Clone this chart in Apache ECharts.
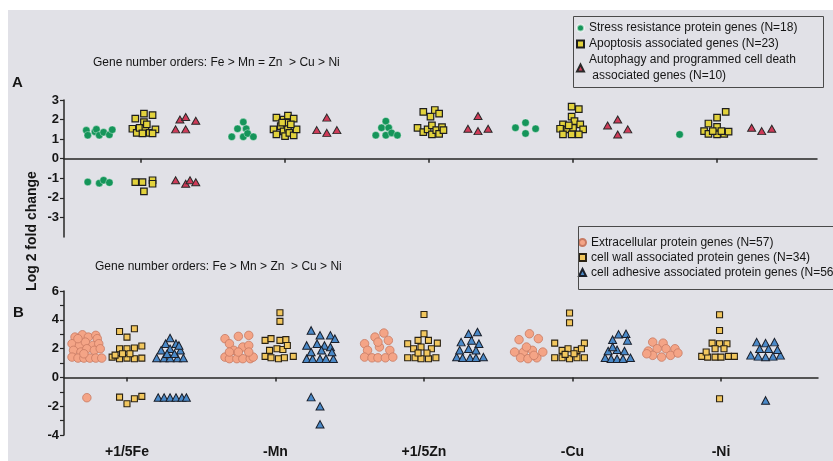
<!DOCTYPE html>
<html>
<head>
<meta charset="utf-8">
<script src="https://cdn.jsdelivr.net/npm/echarts@6/dist/echarts.min.js"></script>
<style>
html,body{margin:0;padding:0;background:#fff;}
#chart{width:833px;height:461px;}
</style>
</head>
<body>
<div id="chart"></div>
<script>
// Category (treatment) labels; x values below = category index + horizontal jitter
const groups = ['+1/5Fe', '-Mn', '+1/5Zn', '-Cu', '-Ni'];

const namesA = ['Stress resistance protein genes (N=18)', 'Apoptosis associated genes (N=23)', 'Autophagy and programmed cell death\n associated genes (N=10)'];
const namesB = ['Extracellular protein genes (N=57)', 'cell wall associated protein genes (N=34)', 'cell adhesive associated protein genes (N=56)'];

const yTicksA = [-3, -2, -1, 0, 1, 2, 3];
const xTicks = [0, 1, 2, 3, 4];

// Panel A: [x, log2 fold change]
const stressA = [
  [-0.38,1.45],[-0.37,1.2],[-0.32,1.38],[-0.31,1.5],[-0.29,1.2],[-0.26,1.35],[-0.22,1.22],[-0.2,1.48],
  [-0.37,-1.19],[-0.29,-1.25],[-0.26,-1.1],[-0.22,-1.22],
  [0.63,1.12],[0.67,1.53],[0.71,1.87],[0.71,1.12],[0.73,1.53],[0.74,1.29],[0.78,1.12],
  [1.63,1.2],[1.67,1.58],[1.7,1.92],[1.7,1.2],[1.72,1.58],[1.74,1.32],[1.78,1.2],
  [2.6,1.58],[2.67,1.84],[2.67,1.29],[2.74,1.53],
  [3.74,1.24]
];
const apoptosisA = [
  [-0.04,2.05],[0.02,2.3],[0.08,2.23],[0.02,1.87],[-0.06,1.53],[-0.03,1.32],[-0.01,1.58],[0.03,1.55],[0.06,1.32],[0.1,1.5],[0.01,1.29],[0.08,1.29],[0.04,1.75],
  [-0.04,-1.2],[0.01,-1.2],[0.08,-1.1],[0.08,-1.28],[0.02,-1.67],
  [0.94,2.1],[0.99,2.0],[1.02,2.2],[1.06,2.05],[0.92,1.5],[0.94,1.24],[0.97,1.67],[0.99,1.4],[1.0,1.15],[1.02,1.58],[1.03,1.32],[1.06,1.19],[1.08,1.5],[1.01,1.84],[0.98,1.84],[1.04,1.75],
  [1.96,2.39],[2.01,2.15],[2.04,2.49],[2.07,2.3],[1.92,1.58],[1.96,1.36],[1.99,1.5],[2.02,1.7],[2.02,1.24],[2.05,1.46],[2.07,1.27],[2.09,1.61],[2.1,1.46],
  [2.99,2.66],[3.04,2.53],[2.99,2.15],[3.01,1.92],[2.93,1.75],[3.05,1.75],[2.91,1.53],[2.96,1.5],[3.0,1.58],[3.07,1.5],[2.93,1.24],[2.99,1.24],[3.04,1.24],[2.97,1.7],
  [4.06,2.39],[4.0,2.1],[3.94,1.8],[4.0,1.63],[3.91,1.41],[3.94,1.27],[4.0,1.24],[4.05,1.27],[4.08,1.38],[3.97,1.41],[4.03,1.41]
];
const autophagyA = [
  [0.24,1.5],[0.27,2.0],[0.31,2.13],[0.31,1.5],[0.38,1.94],
  [0.24,-1.1],[0.31,-1.28],[0.34,-1.1],[0.38,-1.2],
  [1.22,1.46],[1.29,2.1],[1.29,1.32],[1.36,1.46],
  [2.27,1.53],[2.34,2.18],[2.34,1.41],[2.41,1.53],
  [3.24,1.7],[3.31,2.0],[3.31,1.24],[3.38,1.5],
  [4.24,1.58],[4.31,1.41],[4.38,1.53]
];

// Panel B: [x, log2 fold change]
const extracellularB = [
  [-0.35,2.8],[-0.3,2.96],[-0.26,2.8],[-0.21,2.92],[-0.2,2.69],[-0.37,2.34],[-0.32,2.22],[-0.28,2.45],[-0.23,2.22],[-0.19,2.34],[-0.36,1.88],[-0.31,1.76],[-0.27,1.99],[-0.22,1.88],[-0.18,1.99],[-0.37,1.41],[-0.33,1.34],[-0.29,1.34],[-0.25,1.34],[-0.21,1.34],[-0.17,1.34],[-0.29,1.64],[-0.33,2.69],
  [-0.27,-1.41],
  [0.66,2.69],[0.69,2.34],[0.75,2.85],[0.82,2.92],[0.72,1.88],[0.78,2.11],[0.82,2.22],[0.66,1.41],[0.69,1.3],[0.74,1.3],[0.78,1.3],[0.83,1.3],[0.85,1.41],[0.75,1.76],[0.82,1.76],[0.69,1.76],
  [1.6,2.34],[1.67,2.8],[1.73,3.08],[1.76,2.57],[1.62,1.88],[1.7,2.11],[1.77,1.88],[1.6,1.41],[1.65,1.36],[1.69,1.36],[1.74,1.36],[1.79,1.41],[1.69,2.45],
  [2.71,3.03],[2.64,2.62],[2.77,2.69],[2.61,1.76],[2.67,1.76],[2.73,1.88],[2.8,1.76],[2.65,1.36],[2.7,1.3],[2.76,1.36],[2.69,2.11],[2.74,1.53],
  [3.54,2.45],[3.61,2.38],[3.51,1.83],[3.57,1.99],[3.63,1.99],[3.69,1.99],[3.54,1.53],[3.6,1.41],[3.66,1.53],[3.71,1.69],[3.5,1.64]
];
const cellWallB = [
  [-0.05,3.19],[0.05,3.38],[0.0,2.8],[-0.05,1.99],[0.0,1.99],[0.05,2.04],[0.1,2.18],[-0.1,1.41],[-0.05,1.3],[0.0,1.34],[0.05,1.3],[0.1,1.34],[-0.03,1.64],[0.02,1.64],[-0.08,1.55],
  [-0.05,-1.37],[0.0,-1.83],[0.05,-1.48],[0.1,-1.32],
  [1.03,4.49],[1.03,3.89],[0.93,2.57],[0.97,2.69],[1.03,2.57],[1.07,2.62],[0.93,1.46],[0.97,1.36],[1.02,1.3],[1.06,1.36],[1.12,1.46],[0.96,1.88],[1.01,1.99],[1.05,1.94],[1.08,2.22],
  [2.0,4.37],[2.0,3.03],[1.89,2.34],[1.96,2.57],[2.03,2.57],[2.09,2.38],[1.93,1.99],[1.98,2.11],[2.05,1.99],[1.89,1.36],[1.94,1.36],[1.98,1.3],[2.03,1.3],[2.08,1.36],[1.96,1.69],[2.02,1.69],
  [2.98,4.47],[2.98,3.8],[2.88,2.38],[3.08,2.38],[2.93,1.88],[2.97,1.99],[3.03,1.88],[3.06,1.99],[2.88,1.36],[2.93,1.36],[2.98,1.3],[3.03,1.36],[3.08,1.36],[2.95,1.6],[3.01,1.64],
  [3.99,4.35],[3.99,3.26],[3.94,2.38],[3.99,2.34],[4.04,2.34],[3.96,1.99],[4.02,1.99],[3.87,1.46],[3.91,1.41],[3.96,1.41],[4.0,1.41],[4.05,1.46],[4.09,1.46],[3.9,1.76],
  [3.99,-1.48]
];
const adhesiveB = [
  [0.29,2.73],[0.26,2.34],[0.33,2.34],[0.23,1.88],[0.29,1.99],[0.36,1.88],[0.2,1.34],[0.25,1.34],[0.29,1.34],[0.34,1.34],[0.38,1.34],[0.27,1.64],[0.32,1.64],[0.35,2.22],
  [0.21,-1.4],[0.25,-1.4],[0.29,-1.4],[0.33,-1.4],[0.37,-1.4],[0.4,-1.4],
  [1.24,3.26],[1.3,2.92],[1.37,2.92],[1.4,2.69],[1.21,2.22],[1.28,2.34],[1.33,2.22],[1.37,2.11],[1.21,1.3],[1.25,1.3],[1.3,1.3],[1.34,1.3],[1.39,1.3],[1.24,1.76],[1.31,1.88],[1.38,1.76],
  [1.24,-1.37],[1.3,-2.01],[1.3,-3.26],
  [2.3,3.03],[2.36,3.15],[2.25,2.45],[2.32,2.57],[2.37,2.34],[2.22,1.41],[2.26,1.36],[2.31,1.36],[2.35,1.36],[2.4,1.41],[2.24,1.88],[2.3,1.99],[2.35,1.88],
  [3.27,2.62],[3.31,2.99],[3.36,3.03],[3.37,2.57],[3.22,1.36],[3.26,1.3],[3.3,1.3],[3.34,1.3],[3.39,1.36],[3.24,1.83],[3.3,1.92],[3.35,1.83],[3.27,2.11],
  [4.24,2.45],[4.3,2.38],[4.36,2.45],[4.2,1.53],[4.25,1.46],[4.3,1.41],[4.35,1.46],[4.4,1.53],[4.26,1.99],[4.32,1.99],[4.38,1.92],
  [4.3,-1.6]
];

const FONT = 'Liberation Sans, Arial, Helvetica, sans-serif';
const AXC = '#262626';
const TXT = '#151515';

const chart = echarts.init(document.getElementById('chart'), null, {renderer: 'canvas'});

function xAxisCfg(grid, min, max, showLabels) {
  return {
    gridIndex: grid, type: 'value', min: min, max: max,
    splitLine: {show: false},
    axisLine: {show: true, onZero: true, lineStyle: {color: AXC, width: 1.5}},
    axisTick: {show: true, customValues: xTicks, length: 4, lineStyle: {color: AXC, width: 1.5}},
    axisLabel: {
      show: showLabels, customValues: xTicks, margin: 10,
      formatter: function (v) { return groups[Math.round(v)] || ''; },
      fontFamily: FONT, fontSize: 14, fontWeight: 'bold', color: TXT
    }
  };
}

const option = {
  animation: false,
  backgroundColor: '#ffffff',
  textStyle: {fontFamily: FONT},
  graphic: [
    {type: 'rect', z: -10, silent: true, shape: {x: 8, y: 10, width: 830, height: 460}, style: {fill: '#e1e1e7'}},
    {type: 'rect', z: 5, silent: true, shape: {x: 573.5, y: 16.5, width: 250, height: 71}, style: {fill: 'none', stroke: '#4a4a4a', lineWidth: 1}},
    {type: 'rect', z: 5, silent: true, shape: {x: 578.5, y: 226.5, width: 270, height: 63}, style: {fill: 'none', stroke: '#4a4a4a', lineWidth: 1}},
    {type: 'text', x: 93, y: 63, style: {text: 'Gene number orders: Fe > Mn = Zn  > Cu > Ni', font: '12px ' + FONT, fill: TXT, verticalAlign: 'middle'}},
    {type: 'text', x: 95, y: 267, style: {text: 'Gene number orders: Fe > Mn > Zn  > Cu > Ni', font: '12px ' + FONT, fill: TXT, verticalAlign: 'middle'}},
    {type: 'text', x: 12, y: 83, style: {text: 'A', font: 'bold 15px ' + FONT, fill: TXT, verticalAlign: 'middle'}},
    {type: 'text', x: 13, y: 313, style: {text: 'B', font: 'bold 15px ' + FONT, fill: TXT, verticalAlign: 'middle'}},
    {type: 'text', x: 32, y: 231, rotation: Math.PI / 2, style: {text: 'Log 2 fold change', font: 'bold 14px ' + FONT, fill: TXT, align: 'center', verticalAlign: 'middle'}}
  ],
  grid: [
    {left: 64, right: 16, top: 100, bottom: 224, containLabel: false, outerBoundsMode: 'none'},
    {left: 64, right: 15, top: 291, bottom: 26, containLabel: false, outerBoundsMode: 'none'}
  ],
  xAxis: [
    xAxisCfg(0, -0.535, 4.694, false),
    xAxisCfg(1, -0.424, 4.653, true)
  ],
  yAxis: [
    {
      gridIndex: 0, type: 'value', min: -4, max: 3, interval: 1,
      splitLine: {show: false},
      axisLine: {show: true, onZero: false, lineStyle: {color: AXC, width: 1.5}},
      axisTick: {show: true, customValues: yTicksA, length: 4, lineStyle: {color: AXC, width: 1.2}},
      axisLabel: {
        customValues: yTicksA, margin: 5,
        fontFamily: FONT, fontSize: 13, fontWeight: 'bold', color: TXT
      }
    },
    {
      gridIndex: 1, type: 'value', min: -4, max: 6, interval: 1,
      splitLine: {show: false},
      axisLine: {show: true, onZero: false, lineStyle: {color: AXC, width: 1.5}},
      axisTick: {show: true, length: 4, lineStyle: {color: AXC, width: 1.2}},
      axisLabel: {
        margin: 5,
        formatter: function (v) { return (v % 2 === 0) ? String(v) : ''; },
        fontFamily: FONT, fontSize: 13, fontWeight: 'bold', color: TXT
      }
    }
  ],
  legend: [
    {
      data: namesA, orient: 'vertical', left: 576, top: 20, padding: 0,
      itemWidth: 7, itemHeight: 7, itemGap: 0, selectedMode: false,
      textStyle: {fontFamily: FONT, fontSize: 12, lineHeight: 16, color: TXT}
    },
    {
      data: namesB, orient: 'vertical', left: 578, top: 235, padding: 0,
      itemWidth: 7, itemHeight: 7, itemGap: 0, selectedMode: false,
      textStyle: {fontFamily: FONT, fontSize: 12, lineHeight: 15, color: TXT}
    }
  ],
  series: [
    {name: namesA[0], type: 'scatter', xAxisIndex: 0, yAxisIndex: 0, data: stressA, symbol: 'circle', symbolSize: 7.5,
      itemStyle: {color: '#15955a', borderColor: 'rgba(255,255,255,0.6)', borderWidth: 0.6, opacity: 1}},
    {name: namesA[1], type: 'scatter', xAxisIndex: 0, yAxisIndex: 0, data: apoptosisA, symbol: 'rect', symbolSize: 6.5,
      itemStyle: {color: '#e2d23c', borderColor: '#1e1e1e', borderWidth: 1.2, opacity: 1}},
    {name: namesA[2], type: 'scatter', xAxisIndex: 0, yAxisIndex: 0, data: autophagyA, symbol: 'triangle', symbolSize: [8, 7],
      itemStyle: {color: '#cf3a58', borderColor: '#2a2a2a', borderWidth: 1, opacity: 1}},
    {name: namesB[0], type: 'scatter', xAxisIndex: 1, yAxisIndex: 1, data: extracellularB, symbol: 'circle', symbolSize: 8.5,
      itemStyle: {color: '#f4a486', borderColor: '#c87a62', borderWidth: 0.8, opacity: 1}},
    {name: namesB[1], type: 'scatter', xAxisIndex: 1, yAxisIndex: 1, data: cellWallB, symbol: 'rect', symbolSize: 6,
      itemStyle: {color: '#f2c75e', borderColor: '#2a2214', borderWidth: 1.1, opacity: 1}},
    {name: namesB[2], type: 'scatter', xAxisIndex: 1, yAxisIndex: 1, data: adhesiveB, symbol: 'triangle', symbolSize: [8, 7.5],
      itemStyle: {color: '#4a89c8', borderColor: '#1a1f2a', borderWidth: 1, opacity: 1}}
  ]
};
chart.setOption(option);
</script>
</body>
</html>
